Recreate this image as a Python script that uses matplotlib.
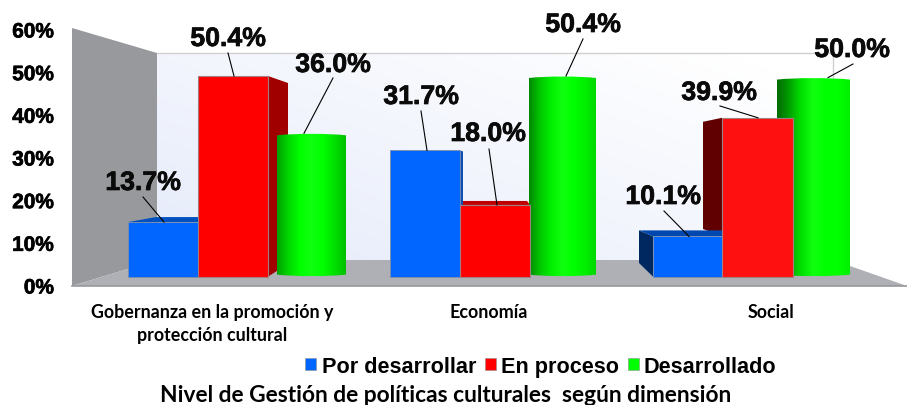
import numpy as np
import matplotlib
matplotlib.use('Agg')
import matplotlib.pyplot as plt
import matplotlib.patheffects as pe
from matplotlib.colors import LinearSegmentedColormap
from matplotlib.patches import Patch, PathPatch, Polygon
from matplotlib.path import Path

# Datos
categorias = ['Gobernanza en la promoción y\nprotección cultural', 'Economía', 'Social']
por_desarrollar = [13.7, 31.7, 10.1]
en_proceso = [50.4, 18.0, 39.9]
desarrollado = [36.0, 50.4, 50.0]
ticks_pct = [0, 10, 20, 30, 40, 50, 60]
tick_labels = ['0%', '10%', '20%', '30%', '40%', '50%', '60%']
titulo = 'Nivel de Gestión de políticas culturales  según dimensión'

# Layout (pixeles de la imagen)
W, H = 907, 406
BASE_PX = 277.6
PX_PCT = 3.98
CAT_X = [212, 489, 771]
AZUL_X = [(128, 70), (390, 70), (653, 69)]
ROJO_X = [(198, 70), (460, 70), (722, 71)]
VERDE_X = [(277, 69), (529, 67), (777, 73)]
# texto (cx, cy), inicio de la linea (x, y), fin de la linea en x
ETIQ_AZUL = [((143, 184), (143, 198), 164), ((421, 98), (421, 112), 427), ((663, 198), (664, 212), 689)]
ETIQ_ROJO = [((228, 40), (228, 54), 234), ((488, 135), (489, 150), 497), ((719, 94), (720, 107), 758)]
ETIQ_VERDE = [((333, 66), (333, 79), 304), ((583, 26), (583, 40), 566), ((852, 51), (853, 65), 828)]

AZUL = '#0066FF'
ROJO = '#FF0000'
VERDE = '#00FF00'
GRUESO = [pe.withStroke(linewidth=0.5, foreground='#0A0A0A')]


def y_px(px):
    """Convierte un pixel vertical a unidades del eje de barras."""
    return (BASE_PX - np.asarray(px, dtype=float)) / PX_PCT


def cara(ax, puntos, color, z):
    pts = [(x, y_px(y)) for x, y in puntos]
    ax.add_patch(Polygon(pts, closed=True, facecolor=color, edgecolor='none', zorder=z))


def top_px(v):
    return BASE_PX - v * PX_PCT


fig = plt.figure(figsize=(W / 100, H / 100), dpi=100)
fig.patch.set_facecolor('white')

ax = fig.add_axes([0, (H - 287) / H, 1, 287 / H])
ax.set_xlim(0, W)
ax.set_ylim(y_px(287), y_px(0))
ax.patch.set_visible(False)
for s in ax.spines.values():
    s.set_visible(False)
ax.yaxis.set_visible(False)

# Pared del fondo con degradado
xx, yy = np.meshgrid(np.linspace(0, 1, 200), np.linspace(0, 1, 200))
grad = np.clip((1 - xx) * 0.65 + yy * 0.55 - 0.1, 0, 1)
cmap_pared = LinearSegmentedColormap.from_list('pared', ['#FFFFFF', '#E8EDFB'])
ax.imshow(grad, extent=(157, 833, y_px(261), y_px(54)), origin='upper', cmap=cmap_pared,
          aspect='auto', zorder=0, vmin=0, vmax=1)
ax.plot([157, 833, 833], [y_px(54), y_px(54), y_px(261)], color='#D0D0D2', lw=1, zorder=0.5)
cara(ax, [(72, 29), (157, 54), (157, 261), (72, 287)], '#97999C', 1)
cara(ax, [(72, 287), (157, 261), (833, 261), (907, 287)], '#AEB0B6', 1)
ax.plot([72, 907], [y_px(286.5), y_px(286.5)], color='#97989C', lw=1.2, zorder=1.1, clip_on=False)

# Caras laterales y superiores
r_x, r_w = ROJO_X[0]
r_t = top_px(en_proceso[0])
cara(ax, [(r_x + r_w, r_t), (r_x + r_w + 20, r_t + 7), (r_x + r_w + 20, 265), (r_x + r_w, BASE_PX)], '#A00000', 2)
r_x, r_w = ROJO_X[1]
r_t = top_px(en_proceso[1])
cara(ax, [(r_x, r_t), (r_x + 3, r_t - 4), (r_x + r_w - 3, r_t - 4), (r_x + r_w, r_t)], '#C00000', 2)
r_x, r_w = ROJO_X[2]
r_t = top_px(en_proceso[2])
cara(ax, [(r_x, r_t), (r_x - 19, r_t + 4), (r_x - 19, 230), (r_x, 237)], '#600000', 2)

a_x, a_w = AZUL_X[0]
a_t = top_px(por_desarrollar[0])
cara(ax, [(a_x, a_t), (a_x + 28, a_t - 5), (a_x + a_w, a_t - 5), (a_x + a_w, a_t)], '#0050C0', 2.2)
a_x, a_w = AZUL_X[1]
a_t = top_px(por_desarrollar[1])
cara(ax, [(a_x + a_w, a_t), (a_x + a_w + 3, a_t + 1), (a_x + a_w + 3, 210), (a_x + a_w, 210)], '#0B50B0', 2.2)
a_x, a_w = AZUL_X[2]
a_t = top_px(por_desarrollar[2])
cara(ax, [(a_x, a_t), (a_x - 14, a_t - 6), (a_x + a_w, a_t - 6), (a_x + a_w, a_t)], '#0048B0', 2.2)
cara(ax, [(a_x, a_t), (a_x - 14, a_t - 6), (a_x - 14, 264), (a_x, BASE_PX)], '#002860', 2.3)

# Barras frontales
ax.bar([x for x, w in AZUL_X], por_desarrollar, width=[w for x, w in AZUL_X], align='edge',
       color=AZUL, edgecolor='#7F8FA8', linewidth=0.6, zorder=3)
ax.bar([x for x, w in ROJO_X], en_proceso, width=[w for x, w in ROJO_X], align='edge',
       color=['#FF0000', '#FF0000', '#FF1010'], edgecolor='#A08080', linewidth=0.8, zorder=3)

# Cilindros verdes
stops = [
    ['#00A000', '#00D800', '#00FF00', '#10FF10', '#00FF00', '#00E000', '#00C000'],
    ['#008800', '#00C800', '#00F000', '#10FF10', '#00FF00', '#00F000', '#00D800'],
    ['#006A00', '#00A000', '#00E000', '#10FF10', '#00FF00', '#00FF00', '#00F000'],
]
for (x, w), v, cols in zip(VERDE_X, desarrollado, stops):
    cmap = LinearSegmentedColormap.from_list('cil', cols)
    abom = 2 / PX_PCT
    verts = [(x, v - abom), (x + w * 0.25, v), (x + w * 0.75, v), (x + w, v - abom),
             (x + w, abom), (x + w * 0.75, 0), (x + w * 0.25, 0), (x, abom), (x, v - abom)]
    codes = [Path.MOVETO, Path.CURVE4, Path.CURVE4, Path.CURVE4, Path.LINETO,
             Path.CURVE4, Path.CURVE4, Path.CURVE4, Path.CLOSEPOLY]
    borde = PathPatch(Path(verts, codes), facecolor='none', edgecolor='none', zorder=2.5)
    ax.add_patch(borde)
    im = ax.imshow(np.linspace(0, 1, 256)[None, :], extent=(x, x + w, 0, v), cmap=cmap,
                   aspect='auto', zorder=2.5)
    im.set_clip_path(borde)

# Etiquetas de valor con linea guia
for valores, etiquetas in [(por_desarrollar, ETIQ_AZUL), (en_proceso, ETIQ_ROJO), (desarrollado, ETIQ_VERDE)]:
    for v, ((cx, cy), (lx, ly), fin_x) in zip(valores, etiquetas):
        ax.plot([lx, fin_x], [y_px(ly), v], color='black', lw=0.8, zorder=4)
        ax.text(cx, y_px(cy), f'{v:.1f}%', ha='center', va='center', fontsize=19.2,
                fontweight='bold', family='Liberation Sans', color='#0A0A0A', zorder=5,
                path_effects=GRUESO)

ax.set_xlim(0, W)
ax.set_ylim(y_px(287), y_px(0))

# Eje de categorias
ax.set_xticks(CAT_X)
ax.set_xticklabels(categorias, family='Lato', fontweight='bold', fontsize=12.9, linespacing=1.42)
ax.tick_params(axis='x', length=0, pad=12)

# Eje de porcentajes
ax_y = fig.add_axes([72 / W, (H - 287) / H, 0.01, 256 / H])
ax_y.patch.set_visible(False)
ax_y.set_ylim(0, 60)
ax_y.set_yticks(ticks_pct)
ax_y.set_yticklabels(tick_labels, family='Liberation Sans', fontweight='bold', fontsize=15,
                     path_effects=GRUESO)
ax_y.tick_params(axis='y', length=0, pad=13)
ax_y.set_xticks([])
for s in ax_y.spines.values():
    s.set_visible(False)

# Leyenda
handles = [Patch(facecolor=AZUL, edgecolor='#909090', linewidth=0.4, label='Por desarrollar'),
           Patch(facecolor=ROJO, edgecolor='#909090', linewidth=0.4, label='En proceso'),
           Patch(facecolor=VERDE, edgecolor='#909090', linewidth=0.4, label='Desarrollado')]
fig.legend(handles=handles, ncol=3, loc='center', bbox_to_anchor=(541 / W, (H - 367.5) / H),
           frameon=False, handlelength=0.5, handleheight=0.5, handletextpad=0.25,
           columnspacing=0.4, borderpad=0, borderaxespad=0,
           prop={'family': 'Liberation Sans', 'weight': 'bold', 'size': 15.6})

# Titulo inferior
fig.text(446 / W, (H - 396) / H, titulo, ha='center', va='center', family='Lato',
         fontweight='bold', fontsize=16.4)

plt.savefig('out.png', dpi=100)
plt.close()
